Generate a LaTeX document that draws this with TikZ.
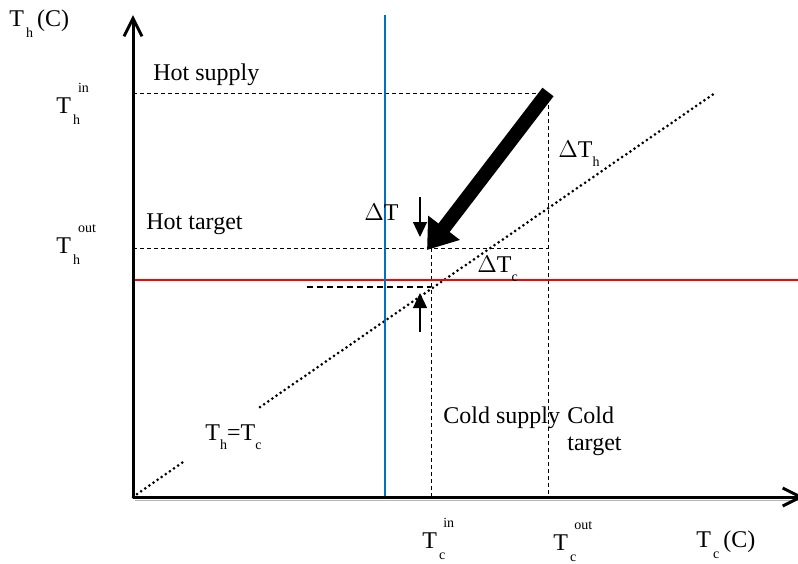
\documentclass[tikz,border=0pt]{standalone}
\usepackage{fontspec}
\setmainfont{Liberation Serif}
\usetikzlibrary{arrows.meta}
\definecolor{HotRed}{HTML}{FF0000}
\definecolor{ColdBlue}{HTML}{0070C0}
\definecolor{Shade}{HTML}{B4B4B4}
\newcommand{\sml}{\fontsize{7}{8}\selectfont}
\newcommand{\lo}[1]{\raisebox{-5.5pt}{\sml #1}}
\newcommand{\sub}[1]{\raisebox{-4.5pt}{\sml #1}}
\newcommand{\tlab}[2]{T\kern1pt\lo{#1}\kern-1pt\raisebox{10.5pt}{\sml #2}}

\begin{document}
\begin{tikzpicture}[x=0.5pt,y=-0.5pt,
    lbl/.style={anchor=base west,inner sep=0pt,font=\fontsize{12}{13.5}\selectfont},
    axis/.style={line width=1.5pt,-{Straight Barb[length=9pt,width=9pt]}},
    guide/.style={line width=0.5pt,dash pattern=on 2pt off 1.5pt},
    diag/.style={line width=1.5pt,line cap=round,dash pattern=on 0pt off 2.5pt},
    small arrow/.style={line width=0.6pt,-{Triangle[length=7.5pt,width=7pt]}}]
  \useasboundingbox (0,0) rectangle (798,563);

  % points
  \coordinate (O) at (133,497);
  \coordinate (ytop) at (133,15);
  \coordinate (xend) at (804,497);
  \coordinate (hin) at (133,93);
  \coordinate (hinR) at (548,93);
  \coordinate (coutB) at (548,497);
  \coordinate (hout) at (133,248);
  \coordinate (houtR) at (548,248);
  \coordinate (cin) at (431,248);
  \coordinate (cinB) at (431,497);
  \coordinate (gapL) at (307,287);
  \coordinate (gapR) at (431,287);
  \coordinate (d1) at (186,460);
  \coordinate (d2) at (260,407);
  \coordinate (d3) at (715,93);
  \coordinate (redL) at (133,280);
  \coordinate (redR) at (798,280);
  \coordinate (blueT) at (385,15);
  \coordinate (blueB) at (385,497);
  \coordinate (bigS) at (548,92);
  \coordinate (bigE) at (427,250);
  \coordinate (dnS) at (420,197);
  \coordinate (dnE) at (420,237);
  \coordinate (upS) at (420,332);
  \coordinate (upE) at (420,293);

  % guides
  \draw[guide] (hin) -- (hinR) -- (coutB);
  \draw[guide] (hout) -- (houtR);
  \draw[guide] (cin) -- (cinB);
  \draw[line width=1pt,dash pattern=on 3pt off 2pt] (gapL) -- (gapR);
  \draw[diag] (O) -- (d1);
  \draw[diag] (d2) -- (d3);

  % streams
  \draw[HotRed,line width=1pt] (redL) -- (redR);
  \draw[ColdBlue,line width=1.4pt] (blueT) -- (blueB);

  % axes
  \draw[Shade,line width=0.8pt] (135,500.5) -- (800,500.5);
  \draw[axis] (O) -- (ytop);
  \draw[axis] (O) -- (xend);

  % arrows
  \draw[line width=7pt,-{Triangle[length=14pt,width=19pt]}] (bigS) -- (bigE);
  \draw[small arrow] (dnS) -- (dnE);
  \draw[small arrow] (upS) -- (upE);

  % labels
  \node[lbl] (ylab) at (9,26) {T\kern1pt\lo{h}\kern2pt(C)};
  \node[lbl] (xlab) at (696,547) {T\kern1pt\lo{c}\kern2pt(C)};
  \node[lbl] (thin) at (56,113) {\tlab{h}{in}};
  \node[lbl] (thout) at (56,253) {\tlab{h}{out}};
  \node[lbl] (tcin) at (422,548) {\tlab{c}{in}};
  \node[lbl] (tcout) at (553,550) {\tlab{c}{out}};
  \node[lbl] (hsup) at (153,80) {Hot supply};
  \node[lbl] (htar) at (146,229) {Hot target};
  \node[lbl] (csup) at (443,423) {Cold supply};
  \node[lbl] (ctar) at (567,423) {Cold};
  \node[lbl] (ctar2) at (567,450) {target};
  \node[lbl] (dT) at (364,220) {$\Delta$T};
  \node[lbl] (dTc) at (477,272) {$\Delta$T\sub{c}};
  \node[lbl] (dTh) at (558,157) {$\Delta$T\sub{h}};
  \node[lbl] (eq) at (205,440) {T\sub{h}=T\sub{c}};
\end{tikzpicture}
\end{document}
